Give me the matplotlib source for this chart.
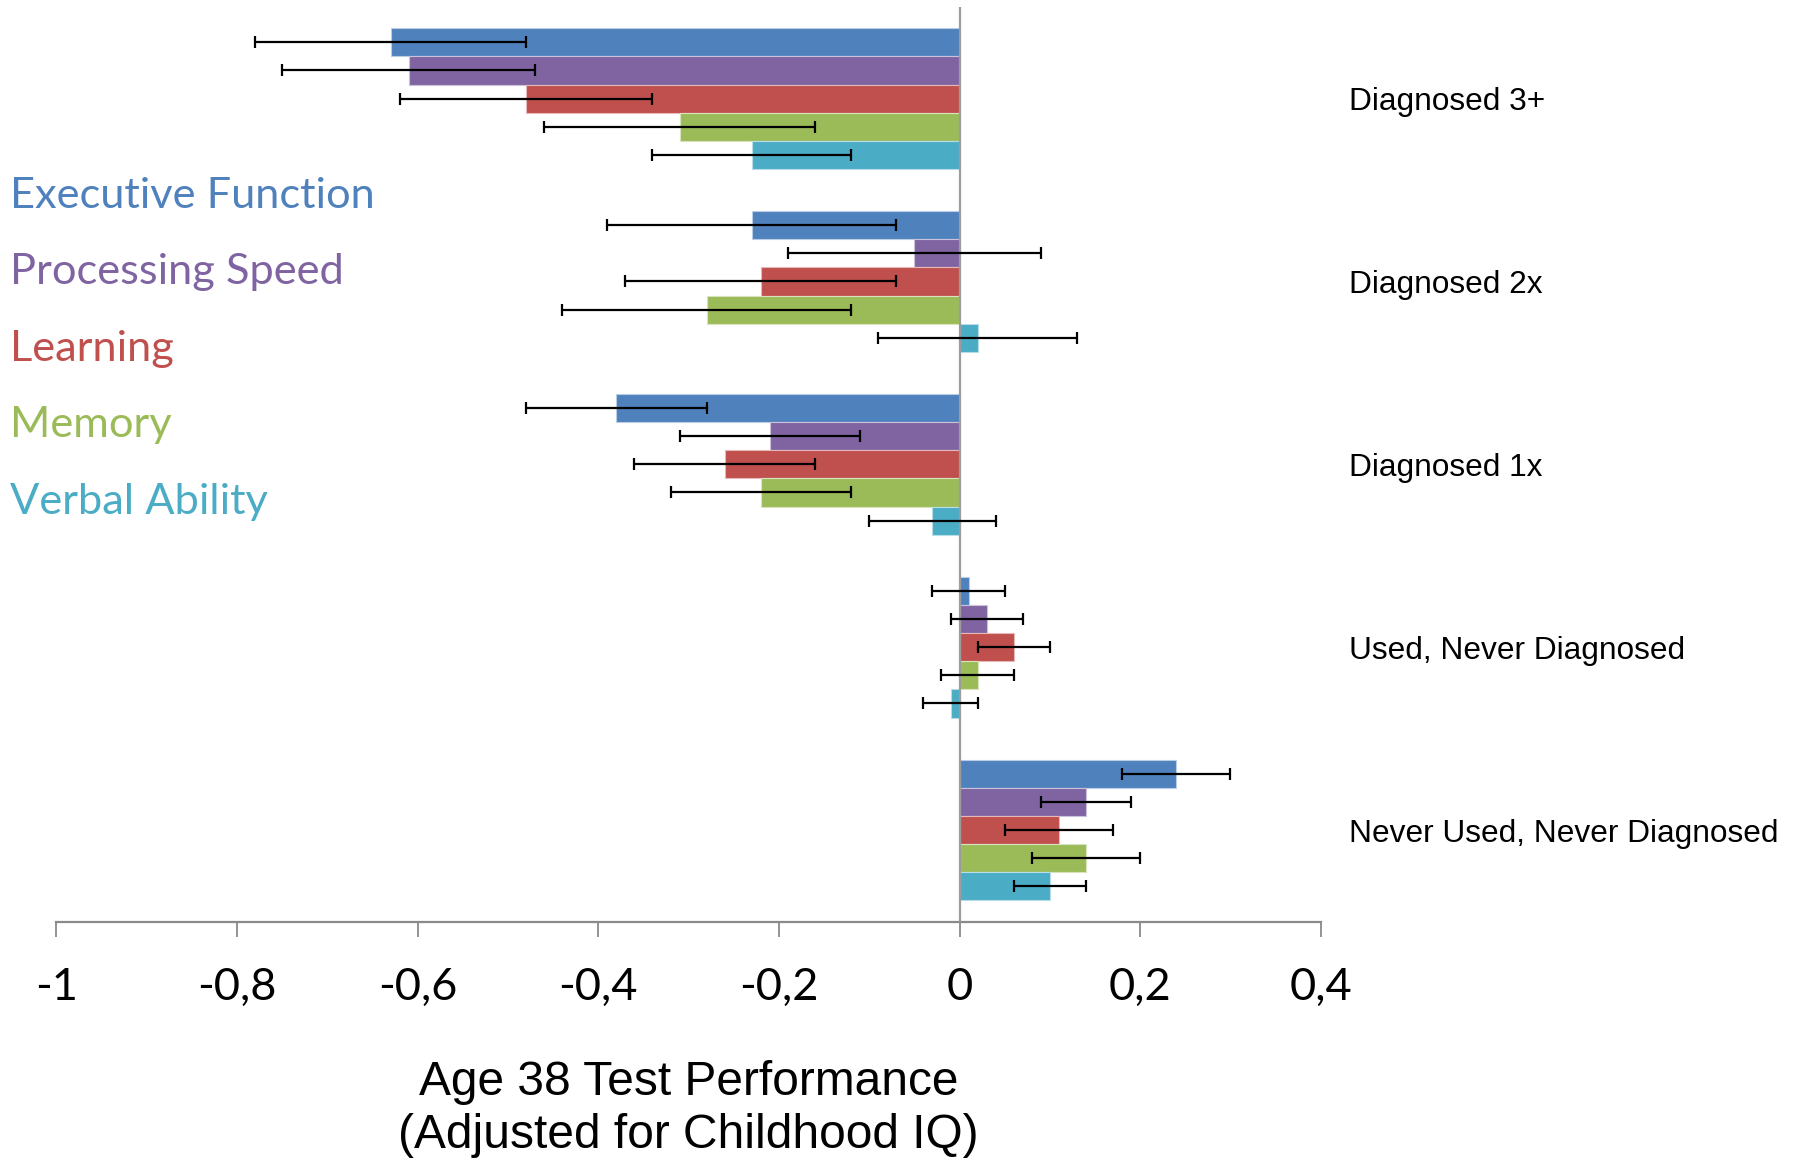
import numpy as np
import matplotlib
matplotlib.use("Agg")
import matplotlib.pyplot as plt
from matplotlib.ticker import FixedLocator, FixedFormatter

# ---- data -------------------------------------------------------------
categories = ["Diagnosed 3+", "Diagnosed 2x", "Diagnosed 1x",
              "Used, Never Diagnosed", "Never Used, Never Diagnosed"]
measures = ["Executive Function", "Processing Speed", "Learning",
            "Memory", "Verbal Ability"]

exec_function = [-0.63, -0.23, -0.38, 0.01, 0.24]
processing_speed = [-0.61, -0.05, -0.21, 0.03, 0.14]
learning = [-0.48, -0.22, -0.26, 0.06, 0.11]
memory = [-0.31, -0.28, -0.22, 0.02, 0.14]
verbal_ability = [-0.23, 0.02, -0.03, -0.01, 0.10]

# confidence interval bounds (low, high) per measure
exec_function_lo = [-0.78, -0.39, -0.48, -0.03, 0.18]
exec_function_hi = [-0.48, -0.07, -0.28, 0.05, 0.30]
processing_speed_lo = [-0.75, -0.19, -0.31, -0.01, 0.09]
processing_speed_hi = [-0.47, 0.09, -0.11, 0.07, 0.19]
learning_lo = [-0.62, -0.37, -0.36, 0.02, 0.05]
learning_hi = [-0.34, -0.07, -0.16, 0.10, 0.17]
memory_lo = [-0.46, -0.44, -0.32, -0.02, 0.08]
memory_hi = [-0.16, -0.12, -0.12, 0.06, 0.20]
verbal_ability_lo = [-0.34, -0.09, -0.10, -0.04, 0.06]
verbal_ability_hi = [-0.12, 0.13, 0.04, 0.02, 0.14]

x_ticks = [-1.0, -0.8, -0.6, -0.4, -0.2, 0.0, 0.2, 0.4]
x_tick_labels = ["-1", "-0,8", "-0,6", "-0,4", "-0,2", "0", "0,2", "0,4"]

# ---- styling ----------------------------------------------------------
colors = ["#4F81BD", "#8064A2", "#C0504D", "#9BBB59", "#4BACC6"]
edge_colors = ["#B9CDE5", "#CCC1DA", "#E6B9B8", "#D7E4BD", "#B7DEE8"]

W, H = 1804, 1159
fig = plt.figure(figsize=(W / 100, H / 100), dpi=100)
ax = fig.add_axes([56.4 / W, 1 - 921.5 / H,
                   (1320.8 - 56.4) / W, (921.5 - 7.2) / H])

series = [
    (exec_function, exec_function_lo, exec_function_hi),
    (processing_speed, processing_speed_lo, processing_speed_hi),
    (learning, learning_lo, learning_hi),
    (memory, memory_lo, memory_hi),
    (verbal_ability, verbal_ability_lo, verbal_ability_hi),
]

n_series = len(series)
bar_h = 1.0 / (n_series + 1.5)
base = np.arange(len(categories))

for i, (vals, lo, hi) in enumerate(series):
    vals = np.asarray(vals)
    y = base + (i - (n_series - 1) / 2) * bar_h
    ax.barh(y, vals, height=bar_h, color=colors[i],
            edgecolor=edge_colors[i], linewidth=0.8, zorder=2)

ax.axvline(0, color="#9C9C9C", lw=1.6, zorder=3)

for i, (vals, lo, hi) in enumerate(series):
    vals = np.asarray(vals)
    y = base + (i - (n_series - 1) / 2) * bar_h
    xerr = [vals - np.asarray(lo), np.asarray(hi) - vals]
    ax.errorbar(vals, y, xerr=xerr, fmt="none", ecolor="black",
                elinewidth=1.6, capsize=4.3, capthick=1.6, zorder=4)

ax.set_xlim(-1.0, 0.4)
ax.set_ylim(len(categories) - 0.5, -0.5)

for side in ("top", "left", "right"):
    ax.spines[side].set_visible(False)
ax.spines["bottom"].set_color("#8A8A8A")
ax.spines["bottom"].set_linewidth(1.6)

ax.xaxis.set_major_locator(FixedLocator(x_ticks))
ax.xaxis.set_major_formatter(FixedFormatter(x_tick_labels))
ax.tick_params(axis="x", direction="out", length=11, width=1.3,
               color="#8A8A8A", pad=22, labelsize=32.5)
for lab in ax.get_xticklabels():
    lab.set_family("Lato")

ax.yaxis.tick_right()
ax.set_yticks(base)
ax.set_yticklabels(categories)
ax.tick_params(axis="y", length=0, pad=20, labelsize=22.8)
for lab in ax.get_yticklabels():
    lab.set_family("Liberation Sans")

# series key, coloured text on the left
legend_baselines = [207.7, 284.2, 360.7, 437.2, 513.7]
for name, col, yb in zip(measures, colors, legend_baselines):
    fig.text(10.0 / W, 1 - yb / H, name, color=col, fontsize=31.2,
             family="Lato", va="baseline", ha="left")

# axis title
fig.text(688.6 / W, 1 - 1095 / H, "Age 38 Test Performance",
         fontsize=34.5, family="Liberation Sans", ha="center", va="baseline")
fig.text(688.6 / W, 1 - 1148 / H, "(Adjusted for Childhood IQ)",
         fontsize=34.5, family="Liberation Sans", ha="center", va="baseline")

fig.savefig("out.png", dpi=100, facecolor="white")
